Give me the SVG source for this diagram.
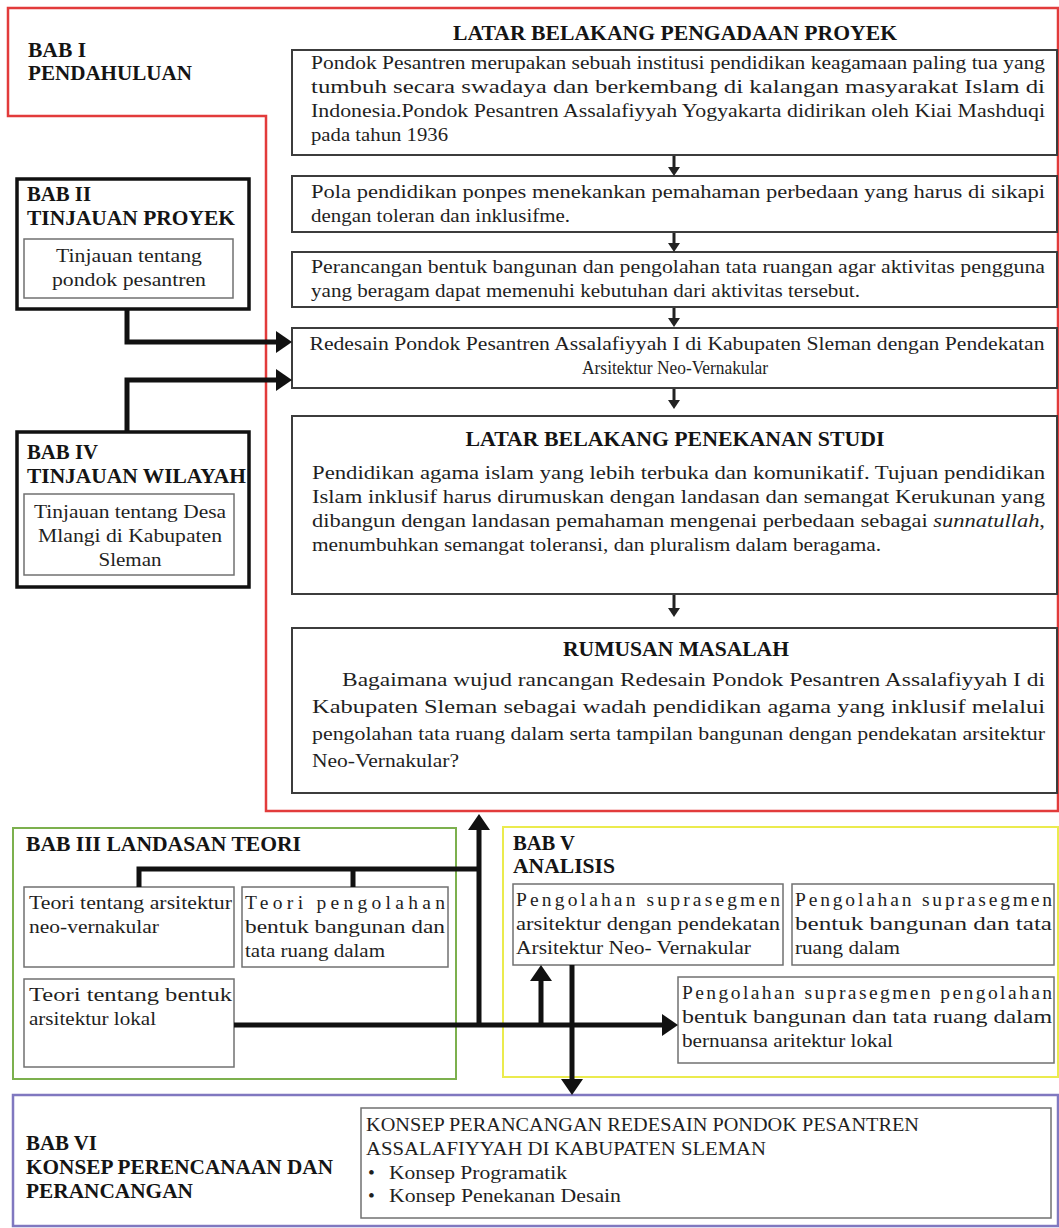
<svg xmlns="http://www.w3.org/2000/svg" width="1059" height="1228" viewBox="0 0 1059 1228">
<style>
text{font-family:"Liberation Serif","Times New Roman",serif;fill:#1f1f1f}
.t{font-size:19.5px}
.h{font-size:20px;font-weight:bold;fill:#141414}
.m{text-anchor:middle}
.box{fill:#fff;stroke:#3c3c3c;stroke-width:2}
.ib{fill:#fff;stroke:#707070;stroke-width:1.5}
.ob{fill:#fff;stroke:#111;stroke-width:3.5}
.con{fill:none;stroke:#111;stroke-width:5}
.sm{fill:none;stroke:#222;stroke-width:3}
</style>
<defs>
<marker id="big" markerUnits="userSpaceOnUse" markerWidth="16" markerHeight="22" refX="0" refY="11" orient="auto"><path d="M0,0L16,11L0,22z" fill="#111"/></marker>
<marker id="small" markerUnits="userSpaceOnUse" markerWidth="9" markerHeight="12" refX="0" refY="6" orient="auto"><path d="M0,0L9,6L0,12z" fill="#222"/></marker>
</defs>
<rect width="1059" height="1228" fill="#fff"/>
<g id="frames">
<path d="M8,8H1058V811H266V116H8Z" fill="none" stroke="#e23b3b" stroke-width="2.5"/>
<rect x="13" y="828" width="443" height="251" fill="none" stroke="#7cb04e" stroke-width="2"/>
<rect x="503" y="827" width="555" height="250" fill="none" stroke="#ebeb4e" stroke-width="2"/>
<rect x="13" y="1095" width="1045" height="131" fill="none" stroke="#8078c0" stroke-width="2.5"/>
</g>
<g id="bab1">
<text class="h" x="28" y="57" textLength="58" lengthAdjust="spacingAndGlyphs">BAB I</text>
<text class="h" x="28" y="80" textLength="164" lengthAdjust="spacingAndGlyphs">PENDAHULUAN</text>
</g>
<g id="latar-pengadaan">
<text class="h m" x="675" y="40" textLength="444" lengthAdjust="spacingAndGlyphs">LATAR BELAKANG PENGADAAN PROYEK</text>
<rect class="box" x="292" y="50" width="765" height="105"/>
<text class="t" x="311" y="69" textLength="734" lengthAdjust="spacingAndGlyphs">Pondok Pesantren merupakan sebuah institusi pendidikan keagamaan paling tua yang</text>
<text class="t" x="311" y="93" textLength="734" lengthAdjust="spacingAndGlyphs">tumbuh secara swadaya dan berkembang di kalangan masyarakat Islam di</text>
<text class="t" x="311" y="117" textLength="734" lengthAdjust="spacingAndGlyphs">Indonesia.Pondok Pesantren Assalafiyyah Yogyakarta didirikan oleh Kiai Mashduqi</text>
<text class="t" x="311" y="141" textLength="137" lengthAdjust="spacingAndGlyphs">pada tahun 1936</text>
</g>
<g id="pola">
<rect class="box" x="292" y="176" width="765" height="56"/>
<text class="t" x="311" y="198" textLength="734" lengthAdjust="spacingAndGlyphs">Pola pendidikan ponpes menekankan pemahaman perbedaan yang harus di sikapi</text>
<text class="t" x="311" y="222" textLength="259" lengthAdjust="spacingAndGlyphs">dengan toleran dan inklusifme.</text>
</g>
<g id="perancangan">
<rect class="box" x="292" y="252" width="765" height="55"/>
<text class="t" x="311" y="273" textLength="734" lengthAdjust="spacingAndGlyphs">Perancangan bentuk bangunan dan pengolahan tata ruangan agar aktivitas pengguna</text>
<text class="t" x="311" y="297" textLength="549" lengthAdjust="spacingAndGlyphs">yang beragam dapat memenuhi kebutuhan dari aktivitas tersebut.</text>
</g>
<g id="redesain">
<rect class="box" x="292" y="328" width="765" height="60"/>
<text class="t m" x="677" y="350" textLength="735" lengthAdjust="spacingAndGlyphs">Redesain Pondok Pesantren Assalafiyyah I di Kabupaten Sleman dengan Pendekatan</text>
<text class="t m" x="675" y="374" textLength="186" lengthAdjust="spacingAndGlyphs">Arsitektur Neo-Vernakular</text>
</g>
<g id="latar-penekanan">
<rect class="box" x="292" y="416" width="765" height="178"/>
<text class="h m" x="675" y="446" textLength="419" lengthAdjust="spacingAndGlyphs">LATAR BELAKANG PENEKANAN STUDI</text>
<text class="t" x="312" y="479" textLength="733" lengthAdjust="spacingAndGlyphs">Pendidikan agama islam yang lebih terbuka dan komunikatif. Tujuan pendidikan</text>
<text class="t" x="312" y="503" textLength="733" lengthAdjust="spacingAndGlyphs">Islam inklusif harus dirumuskan dengan landasan dan semangat Kerukunan yang</text>
<text class="t" x="312" y="527" textLength="733" lengthAdjust="spacingAndGlyphs">dibangun dengan landasan pemahaman mengenai perbedaan sebagai <tspan font-style="italic">sunnatullah</tspan>,</text>
<text class="t" x="312" y="551" textLength="569" lengthAdjust="spacingAndGlyphs">menumbuhkan semangat toleransi, dan pluralism dalam beragama.</text>
</g>
<g id="rumusan">
<rect class="box" x="292" y="628" width="765" height="165"/>
<text class="h m" x="676" y="656" textLength="226" lengthAdjust="spacingAndGlyphs">RUMUSAN MASALAH</text>
<text class="t" x="342" y="686" textLength="703" lengthAdjust="spacingAndGlyphs">Bagaimana wujud rancangan Redesain Pondok Pesantren Assalafiyyah I di</text>
<text class="t" x="312" y="713" textLength="733" lengthAdjust="spacingAndGlyphs">Kabupaten Sleman sebagai wadah pendidikan agama yang inklusif melalui</text>
<text class="t" x="312" y="740" textLength="733" lengthAdjust="spacingAndGlyphs">pengolahan tata ruang dalam serta tampilan bangunan dengan pendekatan arsitektur</text>
<text class="t" x="312" y="767" textLength="147" lengthAdjust="spacingAndGlyphs">Neo-Vernakular?</text>
</g>
<g id="bab2">
<rect class="ob" x="17" y="179" width="232" height="130"/>
<text class="h" x="27" y="201" textLength="64" lengthAdjust="spacingAndGlyphs">BAB II</text>
<text class="h" x="27" y="225" textLength="208" lengthAdjust="spacingAndGlyphs">TINJAUAN PROYEK</text>
<rect class="ib" x="24" y="239" width="209" height="59"/>
<text class="t m" x="129" y="262" textLength="146" lengthAdjust="spacingAndGlyphs">Tinjauan tentang</text>
<text class="t m" x="129" y="286" textLength="154" lengthAdjust="spacingAndGlyphs">pondok pesantren</text>
</g>
<g id="bab4">
<rect class="ob" x="17" y="432" width="232" height="155"/>
<text class="h" x="27" y="459" textLength="71" lengthAdjust="spacingAndGlyphs">BAB IV</text>
<text class="h" x="27" y="483" textLength="219" lengthAdjust="spacingAndGlyphs">TINJAUAN WILAYAH</text>
<rect class="ib" x="24" y="494" width="210" height="81"/>
<text class="t m" x="130" y="518" textLength="192" lengthAdjust="spacingAndGlyphs">Tinjauan tentang Desa</text>
<text class="t m" x="130" y="542" textLength="184" lengthAdjust="spacingAndGlyphs">Mlangi di Kabupaten</text>
<text class="t m" x="130" y="566" textLength="63" lengthAdjust="spacingAndGlyphs">Sleman</text>
</g>
<g id="bab3">
<text class="h" x="26" y="851" textLength="275" lengthAdjust="spacingAndGlyphs">BAB III LANDASAN TEORI</text>
<rect class="ib" x="24" y="887" width="210" height="80"/>
<text class="t" x="29" y="909" textLength="203" lengthAdjust="spacingAndGlyphs">Teori tentang arsitektur</text>
<text class="t" x="29" y="933" textLength="130" lengthAdjust="spacingAndGlyphs">neo-vernakular</text>
<rect class="ib" x="242" y="887" width="206" height="80"/>
<text class="t" x="245" y="909" textLength="200" lengthAdjust="spacing">Teori pengolahan</text>
<text class="t" x="245" y="933" textLength="200" lengthAdjust="spacingAndGlyphs">bentuk bangunan dan</text>
<text class="t" x="245" y="957" textLength="140" lengthAdjust="spacingAndGlyphs">tata ruang dalam</text>
<rect class="ib" x="24" y="979" width="210" height="88"/>
<text class="t" x="29" y="1001" textLength="203" lengthAdjust="spacingAndGlyphs">Teori tentang bentuk</text>
<text class="t" x="29" y="1025" textLength="127" lengthAdjust="spacingAndGlyphs">arsitektur lokal</text>
</g>
<g id="bab5">
<text class="h" x="513" y="850" textLength="62" lengthAdjust="spacingAndGlyphs">BAB V</text>
<text class="h" x="513" y="873" textLength="102" lengthAdjust="spacingAndGlyphs">ANALISIS</text>
<rect class="ib" x="513" y="884" width="270" height="81"/>
<text class="t" x="516" y="906" textLength="264" lengthAdjust="spacing">Pengolahan suprasegmen</text>
<text class="t" x="516" y="930" textLength="264" lengthAdjust="spacingAndGlyphs">arsitektur dengan pendekatan</text>
<text class="t" x="516" y="954" textLength="235" lengthAdjust="spacingAndGlyphs">Arsitektur Neo- Vernakular</text>
<rect class="ib" x="792" y="884" width="262" height="81"/>
<text class="t" x="795" y="906" textLength="257" lengthAdjust="spacing">Pengolahan suprasegmen</text>
<text class="t" x="795" y="930" textLength="257" lengthAdjust="spacingAndGlyphs">bentuk bangunan dan tata</text>
<text class="t" x="795" y="954" textLength="105" lengthAdjust="spacingAndGlyphs">ruang dalam</text>
<rect class="ib" x="678" y="977" width="376" height="86"/>
<text class="t" x="682" y="999" textLength="370" lengthAdjust="spacing">Pengolahan suprasegmen pengolahan</text>
<text class="t" x="682" y="1023" textLength="370" lengthAdjust="spacingAndGlyphs">bentuk bangunan dan tata ruang dalam</text>
<text class="t" x="682" y="1047" textLength="211" lengthAdjust="spacingAndGlyphs">bernuansa aritektur lokal</text>
</g>
<g id="bab6">
<text class="h" x="26" y="1150" textLength="71" lengthAdjust="spacingAndGlyphs">BAB VI</text>
<text class="h" x="26" y="1174" textLength="307" lengthAdjust="spacingAndGlyphs">KONSEP PERENCANAAN DAN</text>
<text class="h" x="26" y="1198" textLength="167" lengthAdjust="spacingAndGlyphs">PERANCANGAN</text>
<rect class="ib" x="361" y="1108" width="690" height="110"/>
<text class="t" x="366" y="1131" textLength="553" lengthAdjust="spacingAndGlyphs">KONSEP PERANCANGAN REDESAIN PONDOK PESANTREN</text>
<text class="t" x="366" y="1155" textLength="400" lengthAdjust="spacingAndGlyphs">ASSALAFIYYAH DI KABUPATEN SLEMAN</text>
<text class="t" x="368" y="1179">•</text>
<text class="t" x="389" y="1179" textLength="178" lengthAdjust="spacingAndGlyphs">Konsep Programatik</text>
<text class="t" x="368" y="1202">•</text>
<text class="t" x="389" y="1202" textLength="232" lengthAdjust="spacingAndGlyphs">Konsep Penekanan Desain</text>
</g>
<g id="connectors">
<path class="sm" d="M674,156V167" marker-end="url(#small)"/>
<path class="sm" d="M674,233V243" marker-end="url(#small)"/>
<path class="sm" d="M674,308V318" marker-end="url(#small)"/>
<path class="sm" d="M674,389V400" marker-end="url(#small)"/>
<path class="sm" d="M674,595V608" marker-end="url(#small)"/>
<path class="con" d="M127,310V342H276" marker-end="url(#big)"/>
<path class="con" d="M127,432V380H276" marker-end="url(#big)"/>
<path class="con" d="M139,887V869H479M353,869V887"/>
<path class="con" d="M234,1025H662" marker-end="url(#big)"/>
<path class="con" d="M479,1025V830" marker-end="url(#big)"/>
<path class="con" d="M541,1025V981" marker-end="url(#big)"/>
<path class="con" d="M572,965V1079" marker-end="url(#big)"/>
</g>
</svg>
